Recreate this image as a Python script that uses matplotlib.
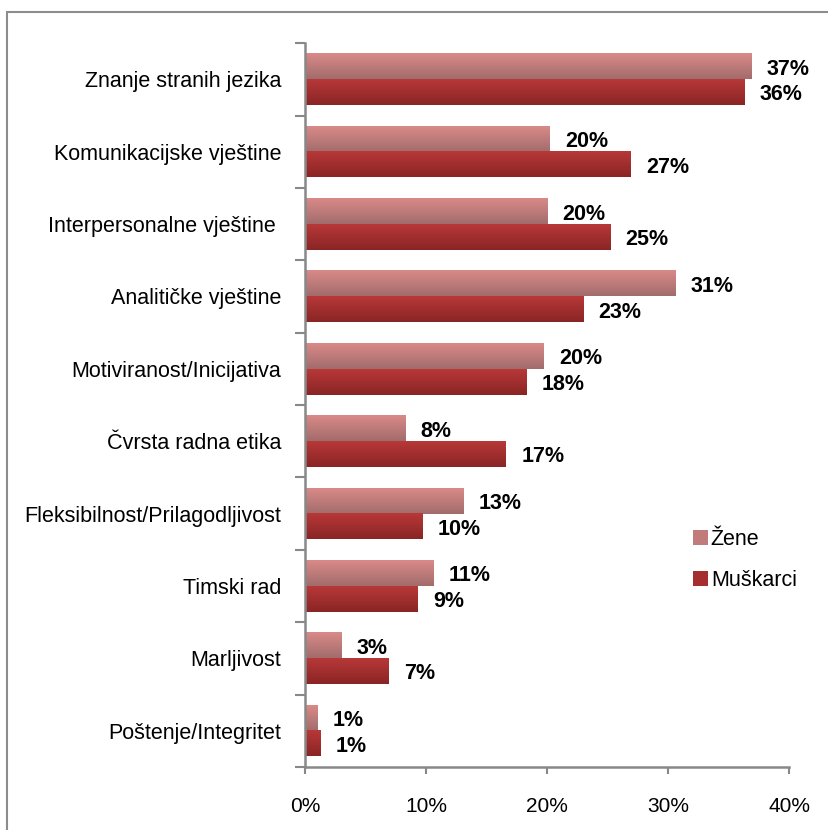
import numpy as np
import matplotlib
matplotlib.use("Agg")
import matplotlib.pyplot as plt
from matplotlib.patches import Rectangle, Patch
from matplotlib.colors import to_rgb

plt.rcParams['font.family'] = ['Liberation Sans', 'DejaVu Sans']

categories = ["Znanje stranih jezika", "Komunikacijske vještine", "Interpersonalne vještine ",
              "Analitičke vještine", "Motiviranost/Inicijativa", "Čvrsta radna etika",
              "Fleksibilnost/Prilagodljivost", "Timski rad", "Marljivost", "Poštenje/Integritet"]
zene = [36.9, 20.2, 20.0, 30.6, 19.7, 8.3, 13.1, 10.6, 3.0, 1.0]
muskarci = [36.3, 26.9, 25.2, 23.0, 18.3, 16.6, 9.7, 9.3, 6.9, 1.3]
series_names = ["Žene", "Muškarci"]
xticks = [0, 10, 20, 30, 40]

# gradient colours: (top, bottom)
zene_grad = ("#d98a88", "#a26c6c")
mus_grad = ("#b83838", "#8a2525")

fig = plt.figure(figsize=(8.29, 8.30), dpi=100)
ax = fig.add_axes([0.368, 0.076, 0.584, 0.872])

y = np.arange(len(categories))
h = 0.355


def grad_bars(ypos, vals, cols):
    bars = ax.barh(ypos, vals, height=h, color='none', edgecolor='none')
    top, bot = np.array(to_rgb(cols[0])), np.array(to_rgb(cols[1]))
    t = np.linspace(0, 1, 64)[:, None, None]
    g = top * (1 - t) + bot * t
    for r in bars:
        x0, y0 = r.get_x(), r.get_y()
        ax.imshow(g, extent=[x0, x0 + r.get_width(), y0, y0 + r.get_height()],
                  origin='lower', aspect='auto', zorder=2)
    return bars


b1 = grad_bars(y - h / 2, zene, zene_grad)
b2 = grad_bars(y + h / 2, muskarci, mus_grad)

for bars, vals in ((b1, zene), (b2, muskarci)):
    for r, v in zip(bars, vals):
        ax.annotate(f"{v:.0f}%", (r.get_width(), r.get_y() + r.get_height() / 2),
                    xytext=(11, -2), textcoords='offset points', va='center', ha='left',
                    fontsize=15.5, fontweight='bold')

ax.set_xlim(0, 40)
ax.set_ylim(len(categories) - 0.5, -0.5)

ax.set_xticks(xticks)
ax.set_xticklabels([f"{v}%" for v in xticks], fontsize=15)
ax.set_yticks(np.arange(len(categories) + 1) - 0.5)
ax.set_yticklabels([])
ax.set_yticks(y, minor=True)
ax.set_yticklabels(categories, minor=True, fontsize=15.5)
ax.tick_params(axis='y', which='minor', length=0, pad=17)
ax.tick_params(axis='y', which='major', length=7, width=1.5, color='#888888')
ax.tick_params(axis='x', length=5, width=1.5, color='#888888', pad=17)

for s in ['top', 'right']:
    ax.spines[s].set_visible(False)
for s in ['left', 'bottom']:
    ax.spines[s].set_color('#888888')
    ax.spines[s].set_linewidth(1.8)

handles = [Patch(facecolor="#c07b7a", edgecolor='none'), Patch(facecolor="#a52f2f", edgecolor='none')]
fig.legend(handles, series_names, loc='center left', bbox_to_anchor=(0.812, 0.325),
           frameon=False, fontsize=15.5, handlelength=0.7, handleheight=0.7,
           handletextpad=0.15, labelspacing=0.95)

fig.patches.append(Rectangle((7 / 829, -0.1), 1.0, 1 - 12 / 830 + 0.1, transform=fig.transFigure,
                             fill=False, edgecolor='#8c8c8c', linewidth=1.5))

fig.savefig("out.png", dpi=100)
